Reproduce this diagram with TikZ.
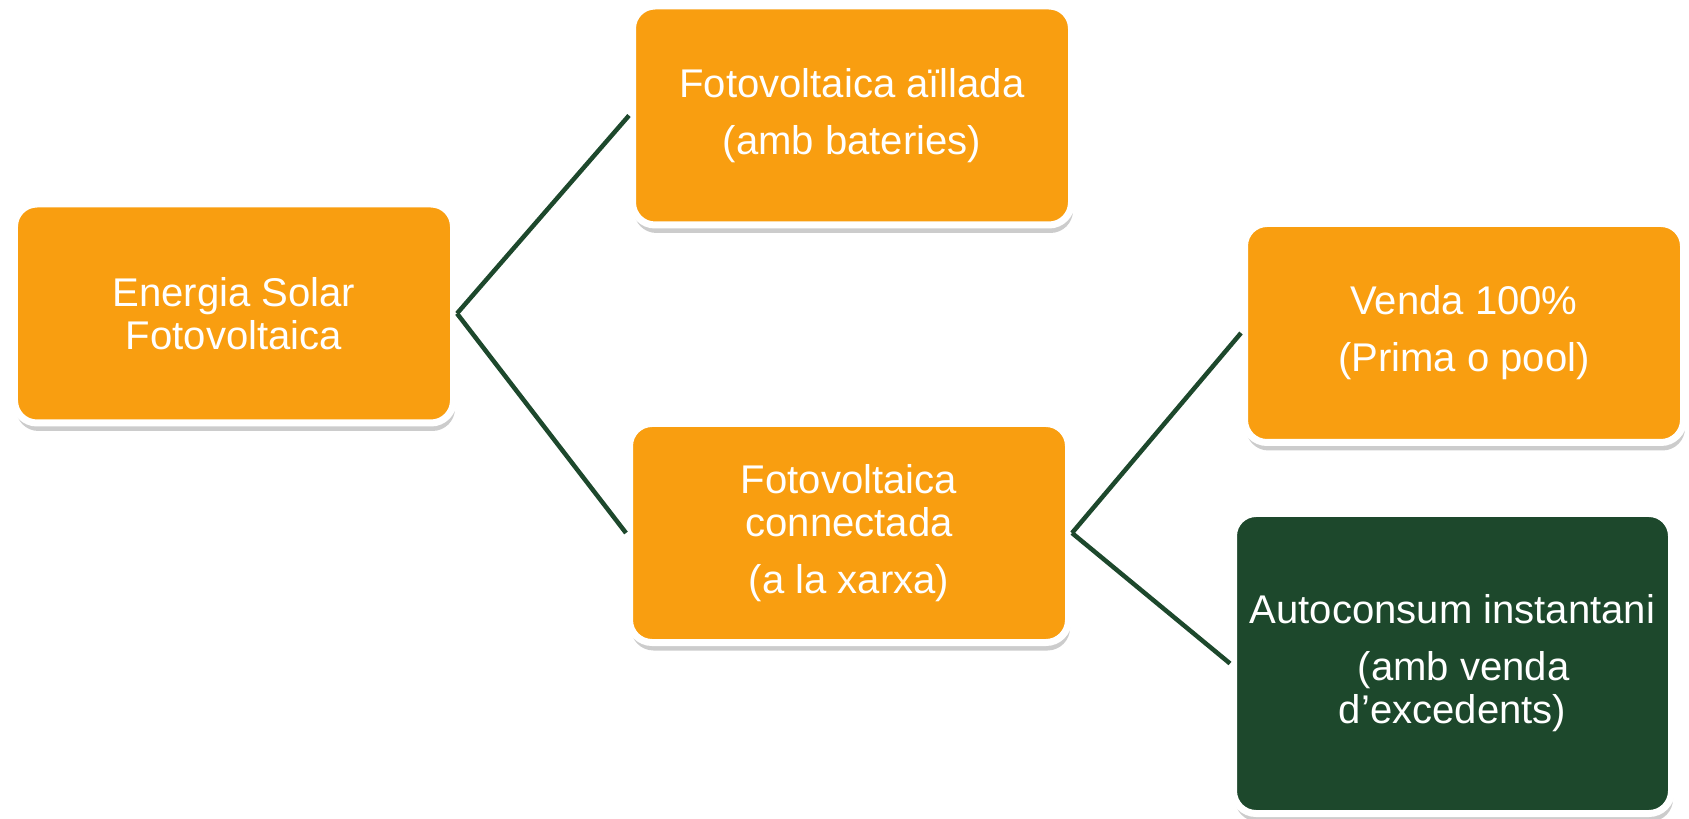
\documentclass[tikz,border=0pt]{standalone}
\usepackage{fontspec}
\setmainfont{Liberation Sans}
\usetikzlibrary{shadows}
\definecolor{solarorange}{RGB}{249,158,16}
\definecolor{solargreen}{RGB}{29,72,44}
\begin{document}
\begin{tikzpicture}[
		card/.style = {draw = white, line width = 0.14cm, rounded corners = 0.45cm,
			fill = solarorange, text = white, align = center,
			minimum width = 8.78cm, minimum height = 4.38cm,
			font = \fontsize{22.8}{24.5}\selectfont,
			drop shadow = {shadow xshift = 0.03cm, shadow yshift = -0.16cm, opacity = 0.4}},
		darkcard/.style = {card, fill = solargreen, minimum width = 8.76cm, minimum height = 6cm},
		branch/.style = {draw = solargreen, line width = 0.09cm}]
		\useasboundingbox (0, 0) rectangle (33.78, -16.38);
		%%%%%%%%%%%%%
		\node[card] (solar) at (4.68, -6.27) {Energia Solar\\Fotovoltaica};
		\node[card] (isolated) at (17.04, -2.31) {Fotovoltaica aïllada\\[8pt](amb bateries)};
		\node[card] (grid) at (16.98, -10.66) {Fotovoltaica\\connectada\\[8pt](a la xarxa)};
		\node[card] (sale) at (29.28, -6.66) {Venda 100\%\\[8pt](Prima o pool)};
		\node[darkcard] (selfuse) at (29.05, -13.27) {Autoconsum instantani\\[8pt]\hspace{0.45cm}(amb venda\\d’excedents)};
		%%%%%%%%%%%%%
		\draw[branch] (solar.east) -- (isolated.west);
		\draw[branch] (solar.east) -- (grid.west);
		\draw[branch] (grid.east) -- (sale.west);
		\draw[branch] (grid.east) -- (selfuse.west);
		%%%%%%%%%%%%%
\end{tikzpicture}
\end{document}
